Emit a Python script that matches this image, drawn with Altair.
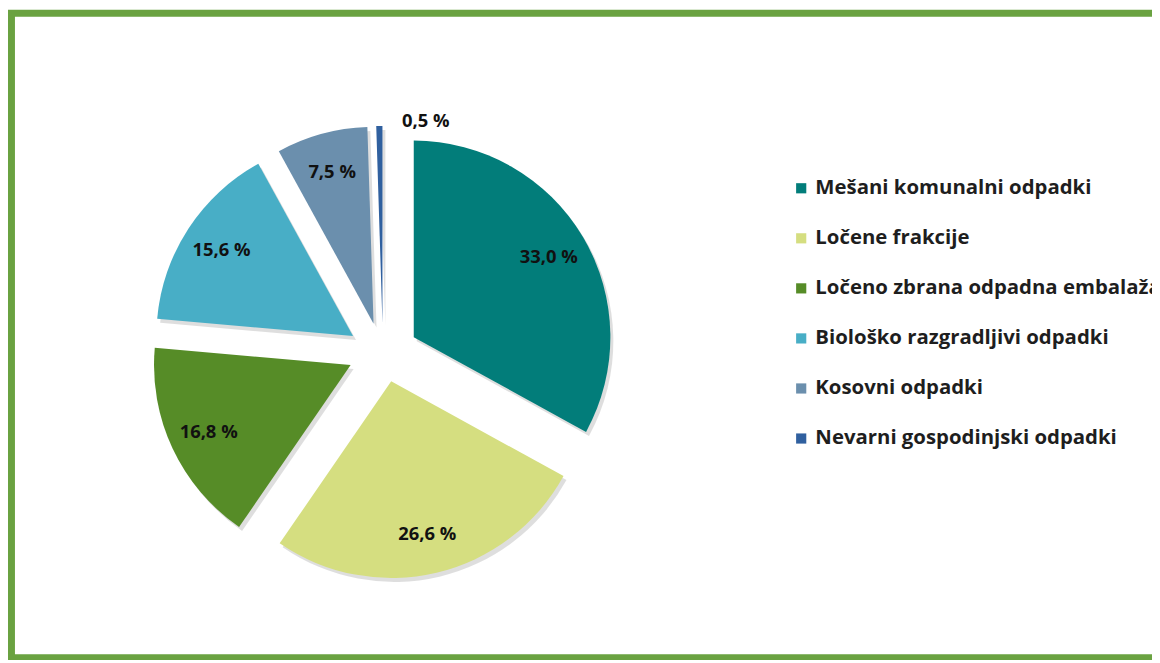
import altair as alt
import pandas as pd

categories = [
    "Mešani komunalni odpadki",
    "Ločene frakcije",
    "Ločeno zbrana odpadna embalaža",
    "Biološko razgradljivi odpadki",
    "Kosovni odpadki",
    "Nevarni gospodinjski odpadki",
]
shares = [33.0, 26.6, 16.8, 15.6, 7.5, 0.5]
share_labels = ["33,0 %", "26,6 %", "16,8 %", "15,6 %", "7,5 %", "0,5 %"]
colors = ["#027d7a", "#d5de80", "#568c27", "#48aec6", "#6b8fad", "#30609f"]

df = pd.DataFrame({
    "cat": categories,
    "share": shares,
    "lab": share_labels,
    "order": list(range(len(categories))),
})

# geometry (pixels inside the plot area)
CX, CY = 374.1, 341.5
EXPLODE_X = 36
EXPLODE_Y = 30
R = 198
FONT = "Open Sans"
W, H = 1148.5, 649

base = alt.Chart(df).transform_window(
    cum="sum(share)", sort=[alt.SortField("order")], frame=[None, 0]
).transform_calculate(
    start="datum.cum - datum.share",
    end="datum.cum",
    midp="datum.cum - datum.share / 2",
).transform_calculate(
    ex="sin(datum.midp / 100 * 2 * PI)",
    ey="cos(datum.midp / 100 * 2 * PI)",
)

xs = alt.X("ex:Q", scale=alt.Scale(domain=[-1, 1], range=[CX - EXPLODE_X, CX + EXPLODE_X]), axis=None)
ys = alt.Y("ey:Q", scale=alt.Scale(domain=[-1, 1], range=[CY + EXPLODE_Y, CY - EXPLODE_Y]), axis=None)
theta_scale = alt.Scale(domain=[0, 100], range=[0, 6.283185307179586])

color_enc = alt.Color(
    "cat:N",
    scale=alt.Scale(domain=categories, range=colors),
    sort=categories,
    legend=alt.Legend(
        orient="none",
        legendX=785,
        legendY=166,
        title=None,
        symbolType="square",
        symbolSize=105,
        symbolStrokeWidth=0,
        labelFont=FONT,
        labelFontSize=20.5,
        labelFontWeight="bold",
        labelColor="#1e1e1e",
        labelOffset=4,
        labelLimit=600,
        rowPadding=29.4,
        padding=0,
    ),
)

frame = alt.Chart(pd.DataFrame({"k": [0]})).mark_rect(
    fillOpacity=0, stroke="#6aa241", strokeWidth=7
).encode(
    x=alt.value(0), x2=alt.value(W + 100), y=alt.value(0), y2=alt.value(H)
)

shadow = base.mark_arc(outerRadius=R, color="#000000", opacity=0.13, xOffset=3, yOffset=4).encode(
    x=xs, y=ys,
    theta=alt.Theta("start:Q", scale=theta_scale, stack=False),
    theta2="end:Q",
)

arcs = base.mark_arc(outerRadius=R).encode(
    x=xs, y=ys,
    theta=alt.Theta("start:Q", scale=theta_scale, stack=False),
    theta2="end:Q",
    color=color_enc,
)

inner_labels = base.transform_filter("datum.share >= 2").mark_text(
    radius=158, font=FONT, fontSize=18.5, fontWeight="bold", color="#111111"
).encode(
    x=xs, y=ys,
    theta=alt.Theta("midp:Q", scale=theta_scale, stack=False),
    text="lab:N",
)

outer_labels = base.transform_filter("datum.share < 2").mark_text(
    radius=203, font=FONT, fontSize=18.5, fontWeight="bold", color="#111111",
    align="left", dx=23,
).encode(
    x=xs, y=ys,
    theta=alt.Theta("midp:Q", scale=theta_scale, stack=False),
    text="lab:N",
)

chart = alt.layer(frame, shadow, arcs, inner_labels, outer_labels).properties(
    width=W,
    height=H,
    autosize=alt.AutoSizeParams(type="none"),
    padding={"left": 3.5, "top": 3, "right": 0, "bottom": 0},
    background="white",
).configure_view(
    strokeWidth=0,
)

chart.save("out.html", embed_options={"renderer": "svg", "actions": False})
